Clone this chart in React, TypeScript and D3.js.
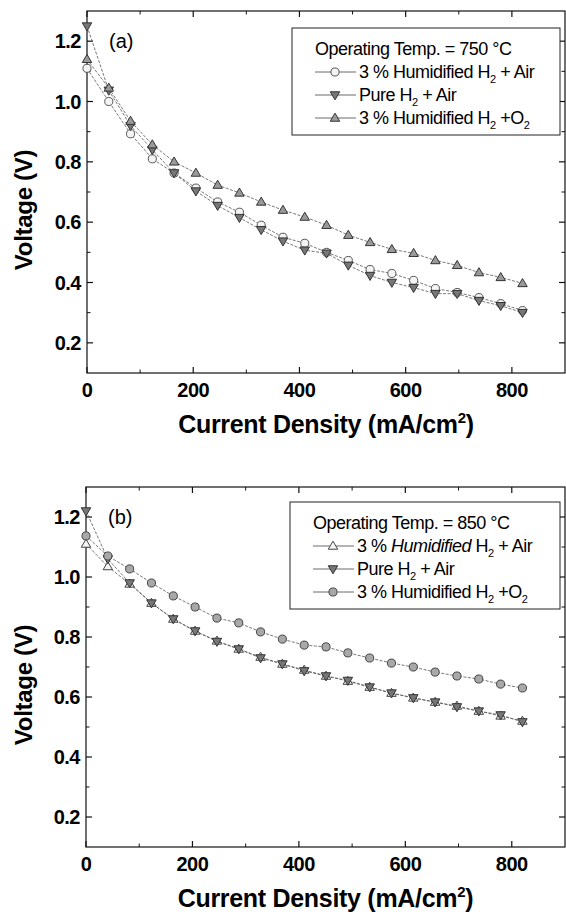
import React from "react";
import * as d3 from "d3";

const currentDensity = [0, 41, 82, 123, 164, 205, 246, 287, 328, 369, 410, 451, 492, 533, 574, 615, 656, 697, 738, 779, 820];

// (a) 750 °C
const humidAir750 = [1.11, 1.0, 0.893, 0.81, 0.763, 0.713, 0.667, 0.633, 0.59, 0.55, 0.53, 0.5, 0.473, 0.443, 0.43, 0.407, 0.38, 0.367, 0.35, 0.33, 0.307];
const pureAir750 = [1.25, 1.037, 0.92, 0.84, 0.763, 0.703, 0.655, 0.615, 0.575, 0.537, 0.507, 0.497, 0.457, 0.423, 0.4, 0.383, 0.363, 0.363, 0.34, 0.323, 0.3];
const humidO2750 = [1.14, 1.045, 0.935, 0.857, 0.8, 0.763, 0.723, 0.697, 0.667, 0.64, 0.617, 0.59, 0.557, 0.533, 0.51, 0.497, 0.473, 0.457, 0.433, 0.417, 0.397];

// (b) 850 °C
const humidAir850 = [1.11, 1.035, 0.977, 0.913, 0.86, 0.82, 0.787, 0.76, 0.733, 0.71, 0.69, 0.67, 0.653, 0.633, 0.613, 0.597, 0.583, 0.57, 0.553, 0.537, 0.52];
const pureAir850 = [1.22, 1.06, 0.98, 0.913, 0.86, 0.82, 0.785, 0.76, 0.73, 0.71, 0.687, 0.67, 0.655, 0.633, 0.613, 0.597, 0.583, 0.567, 0.553, 0.54, 0.517];
const humidO2850 = [1.137, 1.07, 1.027, 0.98, 0.937, 0.9, 0.863, 0.847, 0.817, 0.793, 0.773, 0.767, 0.747, 0.73, 0.713, 0.7, 0.683, 0.67, 0.66, 0.643, 0.63];

const xMajorTicks = [0, 200, 400, 600, 800];
const xMinorTicks = [100, 300, 500, 700];
const yMajorTicks = [0.2, 0.4, 0.6, 0.8, 1.0, 1.2];
const yMinorTicks = [0.3, 0.5, 0.7, 0.9, 1.1];

type Shape = "circle" | "triUp" | "triDown";
interface Series { values: number[]; shape: Shape; fill: string; stroke: string; label: string; italic?: boolean; }

const FONT = "Liberation Sans, Arial, Helvetica, sans-serif";

function Marker({ shape, x, y, fill, stroke, s = 4.5 }: { shape: Shape; x: number; y: number; fill: string; stroke: string; s?: number }) {
  if (shape === "circle") return <circle cx={x} cy={y} r={s * 0.9} fill={fill} stroke={stroke} strokeWidth={1} />;
  const h = s * 1.8;
  const w = s * 1.05;
  const pts = shape === "triUp"
    ? [[x, y - h * 0.6], [x - w, y + h * 0.4], [x + w, y + h * 0.4]]
    : [[x, y + h * 0.6], [x - w, y - h * 0.4], [x + w, y - h * 0.4]];
  return <polygon points={pts.map(p => p.join(",")).join(" ")} fill={fill} stroke={stroke} strokeWidth={1} />;
}

function Panel({ top, bottom, left, right, series, tempLabel, panelLabel, legendBox }: {
  top: number; bottom: number; left: number; right: number; series: Series[]; tempLabel: string; panelLabel: string;
  legendBox: { x0: number; x1: number; y0: number; y1: number };
}) {
  const x = d3.scaleLinear().domain([0, 900]).range([left, right]);
  const y = d3.scaleLinear().domain([0.1, 1.3]).range([bottom, top]);
  const line = d3.line<[number, number]>().x(d => x(d[0])).y(d => y(d[1]));
  const majorLen = 6, minorLen = 3.5;
  const rowH = 23;
  const lx0 = legendBox.x0 + 23;
  return (
    <g>
      {/* frame */}
      <rect x={left} y={top} width={right - left} height={bottom - top} fill="none" stroke="#111" strokeWidth={1.2} />
      {xMajorTicks.map(t => (
        <g key={"xm" + t}>
          <line x1={x(t)} x2={x(t)} y1={bottom} y2={bottom - majorLen} stroke="#111" strokeWidth={1.2} />
          <line x1={x(t)} x2={x(t)} y1={top} y2={top + majorLen} stroke="#111" strokeWidth={1.2} />
          <text x={x(t)} y={bottom + 24} textAnchor="middle" fontFamily={FONT} fontWeight="bold" fontSize={20} letterSpacing={-0.5}>{t}</text>
        </g>
      ))}
      {xMinorTicks.map(t => (
        <g key={"xn" + t}>
          <line x1={x(t)} x2={x(t)} y1={bottom} y2={bottom - minorLen} stroke="#111" strokeWidth={1} />
          <line x1={x(t)} x2={x(t)} y1={top} y2={top + minorLen} stroke="#111" strokeWidth={1} />
        </g>
      ))}
      {yMajorTicks.map(t => (
        <g key={"ym" + t}>
          <line x1={left} x2={left + majorLen} y1={y(t)} y2={y(t)} stroke="#111" strokeWidth={1.2} />
          <line x1={right} x2={right - majorLen} y1={y(t)} y2={y(t)} stroke="#111" strokeWidth={1.2} />
          <text x={left - 6} y={y(t) + 7} textAnchor="end" fontFamily={FONT} fontWeight="bold" fontSize={20} letterSpacing={-0.5}>{t.toFixed(1)}</text>
        </g>
      ))}
      {yMinorTicks.map(t => (
        <g key={"yn" + t}>
          <line x1={left} x2={left + minorLen} y1={y(t)} y2={y(t)} stroke="#111" strokeWidth={1} />
          <line x1={right} x2={right - minorLen} y1={y(t)} y2={y(t)} stroke="#111" strokeWidth={1} />
        </g>
      ))}
      {/* axis titles */}
      <text x={(left + right) / 2} y={bottom + 60} textAnchor="middle" fontFamily={FONT} fontWeight="bold" fontSize={25} letterSpacing={-0.3}>
        Current Density (mA/cm<tspan dy={-10} fontSize={15}>2</tspan><tspan dy={10}>)</tspan>
      </text>
      <text transform={`translate(32,${(top + bottom) / 2 + 18}) rotate(-90)`} textAnchor="middle" fontFamily={FONT} fontWeight="bold" fontSize={24} letterSpacing={-0.3}>
        Voltage (V)
      </text>
      <text x={left + 22} y={top + 37} fontFamily={FONT} fontSize={20}>{panelLabel}</text>
      {/* series */}
      {series.map((s, i) => {
        const pts = currentDensity.map((c, j) => [c, s.values[j]] as [number, number]);
        return (
          <g key={"s" + i}>
            <path d={line(pts) || ""} fill="none" stroke="#555" strokeWidth={0.8} strokeDasharray="3,1.5" />
            {pts.map((p, j) => <Marker key={j} shape={s.shape} x={x(p[0])} y={y(p[1])} fill={s.fill} stroke={s.stroke} />)}
          </g>
        );
      })}
      {/* legend */}
      <rect x={legendBox.x0} y={legendBox.y0} width={legendBox.x1 - legendBox.x0} height={legendBox.y1 - legendBox.y0} fill="white" stroke="#222" strokeWidth={1} />
      <text x={lx0} y={legendBox.y0 + 27} fontFamily={FONT} fontSize={18} letterSpacing={-0.5}>{tempLabel}</text>
      {series.map((s, i) => {
        const yy = legendBox.y0 + 27 + rowH * (i + 1);
        const my = yy - 6;
        return (
          <g key={"l" + i}>
            <line x1={lx0} x2={lx0 + 41} y1={my} y2={my} stroke="#444" strokeWidth={0.8} />
            <Marker shape={s.shape} x={lx0 + 20} y={my} fill={s.fill} stroke={s.stroke} />
            <text x={lx0 + 44} y={yy} fontFamily={FONT} fontSize={18} letterSpacing={-0.5}>{s.label === "pure" ? (
              <>Pure H<tspan dy={5} fontSize={11}>2</tspan><tspan dy={-5}> + Air</tspan></>
            ) : s.label === "air" ? (
              <>3 % <tspan fontStyle={s.italic ? "italic" : "normal"}>Humidified</tspan> H<tspan dy={5} fontSize={11}>2</tspan><tspan dy={-5}> + Air</tspan></>
            ) : (
              <>3 % Humidified H<tspan dy={5} fontSize={11}>2</tspan><tspan dy={-5}> +O</tspan><tspan dy={5} fontSize={11}>2</tspan></>
            )}</text>
          </g>
        );
      })}
    </g>
  );
}

export default function App() {
  const seriesA: Series[] = [
    { values: humidAir750, shape: "circle", fill: "#f4f4f4", stroke: "#555", label: "air" },
    { values: pureAir750, shape: "triDown", fill: "#777", stroke: "#333", label: "pure" },
    { values: humidO2750, shape: "triUp", fill: "#9a9a9a", stroke: "#333", label: "o2" },
  ];
  const seriesB: Series[] = [
    { values: humidAir850, shape: "triUp", fill: "#f4f4f4", stroke: "#444", label: "air", italic: true },
    { values: pureAir850, shape: "triDown", fill: "#777", stroke: "#333", label: "pure" },
    { values: humidO2850, shape: "circle", fill: "#a8a8a8", stroke: "#444", label: "o2" },
  ];
  return (
    <svg width={566} height={914} style={{ position: "absolute", left: 0, top: 0, background: "white" }}>
      <rect width={566} height={914} fill="white" />
      <Panel top={11} bottom={373} left={87} right={565} series={seriesA} tempLabel="Operating Temp. = 750 °C" panelLabel="(a)"
        legendBox={{ x0: 292, x1: 560, y0: 28, y1: 135 }} />
      <Panel top={487} bottom={847} left={86} right={565} series={seriesB} tempLabel="Operating Temp. = 850 °C" panelLabel="(b)"
        legendBox={{ x0: 290, x1: 560, y0: 502, y1: 609 }} />
    </svg>
  );
}
